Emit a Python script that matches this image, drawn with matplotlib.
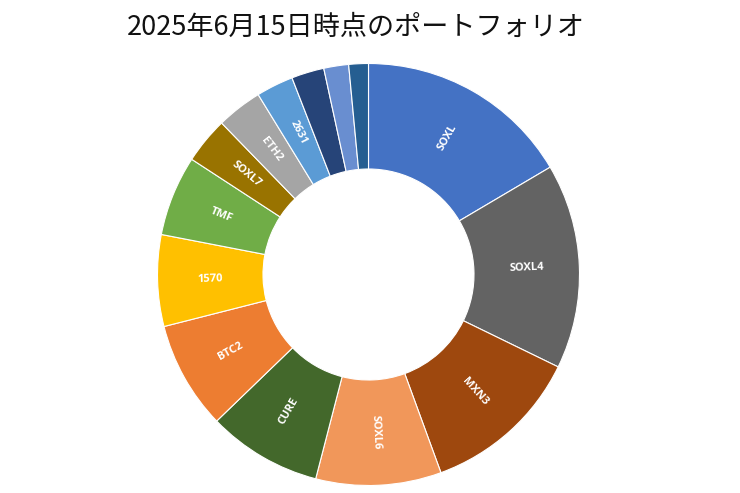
import matplotlib
matplotlib.use("Agg")
import matplotlib.pyplot as plt
import numpy as np

plt.rcParams['font.family'] = ['Noto Sans CJK JP', 'DejaVu Sans']

title = "2025年6月15日時点のポートフォリオ"
labels = ["SOXL", "SOXL4", "MXN3", "SOXL6", "CURE", "BTC2", "1570", "TMF",
          "SOXL7", "ETH2", "2631", "", "", ""]
values = [16.5, 15.7, 12.2, 9.6, 8.75, 8.25, 7.0, 6.15, 3.55, 3.5, 2.85, 2.5, 1.9, 1.5]
colors = ["#4472C4", "#636363", "#9E480E", "#F1975A", "#43682B", "#ED7D31",
          "#FFC000", "#70AD47", "#997300", "#A5A5A5", "#5B9BD5", "#264478",
          "#698ED0", "#255E91"]

W, H = 740, 493
fig = plt.figure(figsize=(W / 100, H / 100), dpi=100)
cx, cy, R = 368.5, 218.5, 211
ax = fig.add_axes([(cx - R) / W, (cy - R) / H, 2 * R / W, 2 * R / H])

wedges, _ = ax.pie(values, colors=colors, startangle=90, counterclock=False,
                   radius=1.0,
                   wedgeprops=dict(width=0.5, edgecolor="white", linewidth=0.8))

for w, lab in zip(wedges, labels):
    if not lab:
        continue
    mid = 0.5 * (w.theta1 + w.theta2)
    r = 0.75
    x = r * np.cos(np.radians(mid))
    y = r * np.sin(np.radians(mid))
    rot = (mid + 180) % 360 - 180
    if rot > 90:
        rot -= 180
    elif rot < -90:
        rot += 180
    ax.text(x, y, lab, ha="center", va="center", rotation=rot,
            rotation_mode="anchor", color="white", fontsize=8,
            fontweight="bold", family=["Open Sans", "DejaVu Sans"])

ax.set_xlim(-1, 1)
ax.set_ylim(-1, 1)
ax.set_aspect("equal")
ax.axis("off")

fig.text(356 / W, 1 - 27 / H, title, ha="center", va="center", fontsize=19.5,
         color="#111111")

fig.savefig("out.png", dpi=100)
